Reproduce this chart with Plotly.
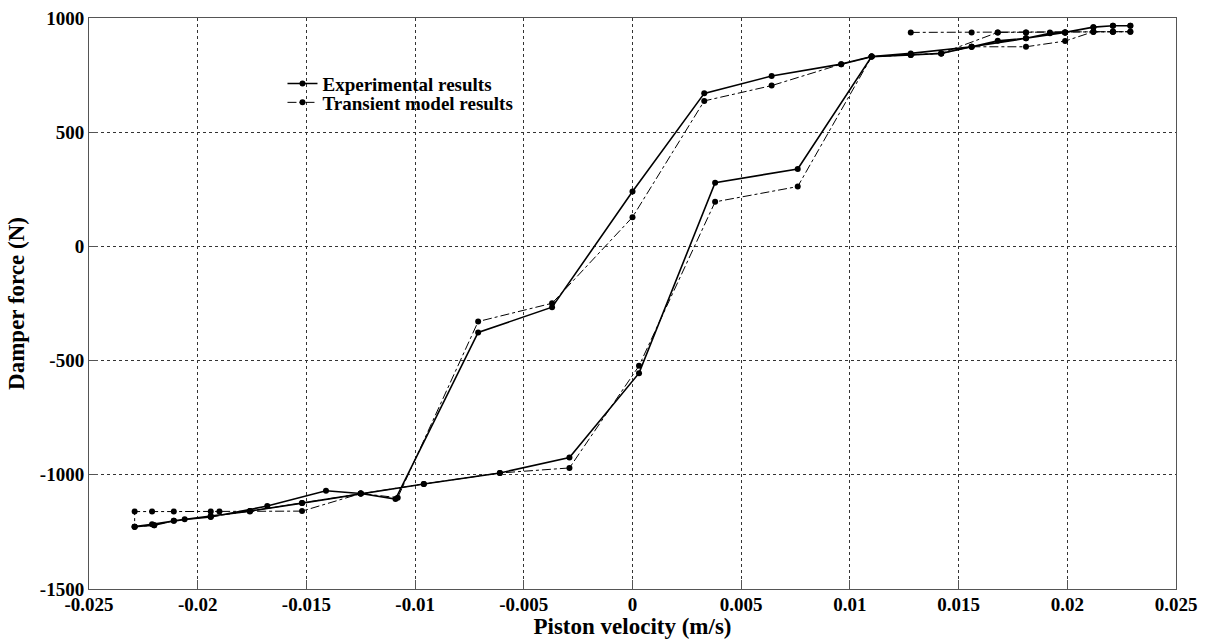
import plotly.graph_objects as go

# Experimental hysteresis loop: lower branch (velocity rising) then upper branch (velocity falling)
exp_velocity = [
    -0.0229, -0.0220, -0.0211, -0.0194, -0.0176, -0.0152, -0.0125, -0.0096,
    -0.0061, -0.0029, 0.0003, 0.0038, 0.0076, 0.0110, 0.0128, 0.0142,
    0.0156, 0.0168, 0.0181, 0.0192, 0.0199, 0.0212, 0.0221, 0.0229,
    0.0229, 0.0221, 0.0212, 0.0199, 0.0181, 0.0156, 0.0128, 0.0110,
    0.0096, 0.0064, 0.0033, 0.0000, -0.0037, -0.0071, -0.0109, -0.0125,
    -0.0141, -0.0168, -0.0194, -0.0206, -0.0221, -0.0229,
]
exp_force = [
    -1227, -1221, -1201, -1180, -1159, -1124, -1082, -1040,
    -992, -924, -555, 279, 339, 831, 838, 845,
    874, 900, 911, 933, 937, 960, 966, 966,
    966, 966, 960, 937, 911, 874, 845, 831,
    798, 746, 670, 240, -266, -377, -1106, -1082,
    -1070, -1137, -1185, -1195, -1217, -1227,
]

# Transient model: start-up segment, then falling branch and rising branch
model_velocity = [
    0.0128, 0.0156, 0.0168, 0.0181, 0.0192, 0.0199, 0.0212, 0.0221, 0.0229,
    0.0221, 0.0212, 0.0199, 0.0181, 0.0168, 0.0142, 0.0110,
    0.0096, 0.0064, 0.0033, 0.0000, -0.0037, -0.0071, -0.0108, -0.0125,
    -0.0152, -0.0176, -0.0190, -0.0194, -0.0211, -0.0221, -0.0229,
    -0.0229, -0.0220, -0.0211, -0.0194, -0.0176, -0.0152, -0.0125, -0.0096,
    -0.0061, -0.0029, 0.0003, 0.0038, 0.0076, 0.0110, 0.0128, 0.0142,
    0.0156, 0.0181, 0.0199, 0.0212, 0.0221, 0.0229,
]
model_force = [
    937, 937, 937, 937, 937, 937, 940, 940, 940,
    940, 940, 937, 937, 937, 845, 831,
    798, 704, 637, 128, -249, -329, -1100, -1082,
    -1159, -1161, -1161, -1161, -1161, -1161, -1161,
    -1227, -1221, -1201, -1183, -1159, -1124, -1082, -1040,
    -992, -970, -523, 195, 262, 831, 838, 845,
    874, 874, 899, 940, 940, 940,
]

x_ticks = [-0.025, -0.02, -0.015, -0.01, -0.005, 0, 0.005, 0.01, 0.015, 0.02, 0.025]
x_tick_text = ["-0.025", "-0.02", "-0.015", "-0.01", "-0.005", "0", "0.005", "0.01", "0.015", "0.02", "0.025"]
y_ticks = [-1500, -1000, -500, 0, 500, 1000]
y_tick_text = ["-1500", "-1000", "-500", "0", "500", "1000"]

serif = "Liberation Serif"


def bold(labels):
    return [f"<b>{t}</b>" for t in labels]


fig = go.Figure()
fig.add_trace(go.Scatter(
    x=exp_velocity, y=exp_force, mode="lines+markers",
    name="<b>Experimental results</b>", legend="legend",
    line=dict(color="black", width=1.6),
    marker=dict(color="black", size=6),
))
fig.add_trace(go.Scatter(
    x=model_velocity, y=model_force, mode="lines+markers",
    name="<b>Transient model results</b>", legend="legend2",
    line=dict(color="black", width=1, dash="dashdot"),
    marker=dict(color="black", size=6),
))

axis_common = dict(
    showline=True, linecolor="#555555", linewidth=1, mirror=True,
    ticks="inside", ticklen=9, tickcolor="#555555",
    showgrid=True, gridcolor="#333333", griddash="dot", gridwidth=1,
    zeroline=False, automargin=False,
    tickfont=dict(family=serif, size=19, color="black"),
)

fig.update_xaxes(
    range=[-0.025, 0.025], tickvals=x_ticks, ticktext=bold(x_tick_text),
    ticklabelstandoff=-2,
    title=dict(text="<b>Piston velocity (m/s)</b>", standoff=3,
               font=dict(family=serif, size=23, color="black")),
    **axis_common,
)
fig.update_yaxes(
    range=[-1500, 1000], tickvals=y_ticks, ticktext=bold(y_tick_text),
    title=dict(text="<b>Damper force (N)</b>", standoff=8,
               font=dict(family=serif, size=23, color="black")),
    **axis_common,
)

legend_font = dict(family=serif, size=19, color="black")
legend_common = dict(
    x=0.178, xanchor="left", yanchor="middle",
    bgcolor="rgba(0,0,0,0)", borderwidth=0, font=legend_font, itemwidth=30,
)

fig.update_layout(
    width=1210, height=639,
    margin=dict(l=89, r=34, t=18, b=50),
    paper_bgcolor="white", plot_bgcolor="white",
    showlegend=True,
    legend=dict(y=0.885, **legend_common),
    legend2=dict(y=0.852, **legend_common),
    shapes=[dict(
        type="rect", xref="paper", yref="paper", layer="between",
        x0=0.176, x1=0.415, y0=0.838, y1=0.905,
        fillcolor="white", line=dict(width=0),
    )],
)

fig.write_html("out.html")
